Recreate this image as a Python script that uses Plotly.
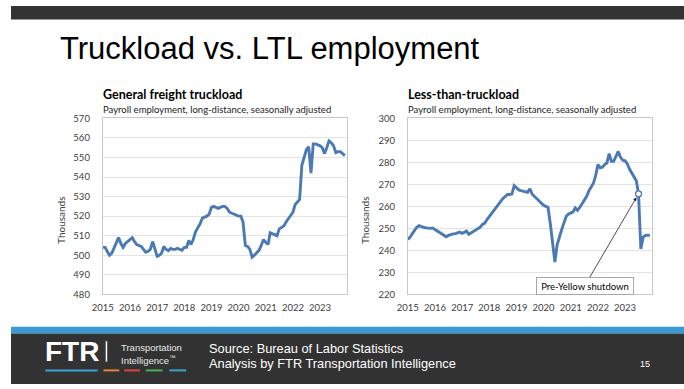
import plotly.graph_objects as go
import pandas as pd

# ---------------- data ----------------
months = pd.date_range("2015-01-01", "2023-12-01", freq="MS")

truckload_k = [
    504, 504, 502, 500, 501, 504, 507, 509, 506, 504, 506, 507,          # 2015
    508, 509, 507, 505.5, 505, 504.5, 503, 501.5, 502, 503, 507, 503,    # 2016
    499.5, 500, 501, 504.5, 503, 502.3, 503.5, 503, 503, 503.5, 503, 502.5,  # 2017
    504, 504, 507.5, 505.5, 508, 512, 514, 516, 519, 519.5, 520, 521,    # 2018
    524.5, 525, 524.5, 524, 524.5, 525, 525, 524, 522, 521.5, 521, 520.5,  # 2019
    520, 520, 517, 505, 504.5, 503, 499, 500, 501.5, 502.5, 505, 508,    # 2020
    506.5, 505.5, 511.5, 511, 510.5, 510, 513.5, 514.5, 515, 517, 518.5, 520,  # 2021
    522, 526, 527, 528.5, 546, 550, 554, 555.5, 542, 557, 557, 556.5,    # 2022
    556, 555, 552, 555, 558.5, 557.5, 556, 552.5, 553, 553, 552, 551,    # 2023
]

ltl_k = [
    245, 246, 247.5, 249, 250.5, 251.2, 251, 250.5, 250.2, 250, 250, 250.2,      # 2015
    249.5, 248.7, 248, 247.5, 247, 246.2, 246.8, 247.3, 247.5, 247.6, 248, 248.3,  # 2016
    247.7, 248.3, 248.7, 247.3, 248, 248.7, 249.3, 249.8, 250.5, 251.8, 252.4, 254,  # 2017
    255.4, 256.8, 258.3, 259.6, 261, 262.3, 263.5, 264.4, 265.4, 265.4, 265.6, 269.4,  # 2018
    268.3, 267.5, 267.2, 266.9, 266.6, 266.4, 268, 265.5, 264.5, 263.5, 262.5, 261.5,  # 2019
    260.5, 260, 259.5, 252, 242, 234.7, 242.5, 246.5, 249.5, 252.5, 255.5, 256.5,  # 2020
    257, 257.5, 259.3, 258.2, 259.5, 261, 262.5, 264.5, 267, 268.5, 270.5, 274,    # 2021
    279, 277.5, 277.8, 279, 279.7, 284, 280.5, 280.5, 283, 285, 282.3, 281,        # 2022
    280.7, 279.3, 277, 275, 273, 271.6, 265.7, 240.6, 246, 246.8, 246.9, 246.8,    # 2023
]

year_labels = [str(y) for y in range(2015, 2024)]
year_ticks = [f"{y}-01-01" for y in range(2015, 2024)]
marker_index = 102  # July 2023, pre-Yellow shutdown

# ---------------- figure ----------------
W, H = 684, 389
def X(px): return px / W
def Y(py): return 1 - py / H

LINE = "#4a7ab4"
TICKF = dict(family="Lato", size=9.5, color="#404040")

fig = go.Figure()
fig.add_trace(go.Scatter(x=months, y=truckload_k, mode="lines",
                         line=dict(color=LINE, width=2.9), xaxis="x", yaxis="y",
                         hoverinfo="skip"))
fig.add_trace(go.Scatter(x=months, y=ltl_k, mode="lines",
                         line=dict(color=LINE, width=2.9), xaxis="x2", yaxis="y2",
                         hoverinfo="skip"))
fig.add_trace(go.Scatter(x=[months[marker_index]], y=[ltl_k[marker_index]], mode="markers",
                         marker=dict(color="white", size=6, line=dict(color=LINE, width=1.3)),
                         xaxis="x2", yaxis="y2", hoverinfo="skip"))

xcommon = dict(type="date", range=["2015-01-01", "2024-01-01"], tickvals=year_ticks,
               ticktext=year_labels, showgrid=False, showline=True, linecolor="#c8c8c8",
               linewidth=1, mirror=True, ticks="", tickfont=TICKF, ticklabelstandoff=4,
               zeroline=False, fixedrange=True)
ycommon = dict(showgrid=True, gridcolor="#e3e3e3", gridwidth=1, showline=True,
               linecolor="#c8c8c8", linewidth=1, mirror=True, ticks="", tickfont=TICKF,
               ticklabelstandoff=10, zeroline=False, dtick=10, fixedrange=True)

fig.update_layout(
    width=W, height=H, autosize=False, margin=dict(l=0, r=0, t=0, b=0),
    paper_bgcolor="white", plot_bgcolor="white", showlegend=False,
    xaxis=dict(domain=[X(93.3), X(341.7)], anchor="y", **xcommon),
    yaxis=dict(domain=[Y(296.7), Y(115.7)], anchor="x", range=[480, 570], **ycommon),
    xaxis2=dict(domain=[X(403.3), X(651.7)], anchor="y2", **xcommon),
    yaxis2=dict(domain=[Y(296.7), Y(115.7)], anchor="x2", range=[220, 300], **ycommon),
)

shapes = [
    dict(type="rect", xref="paper", yref="paper", x0=0, x1=1, y0=Y(14), y1=1,
         fillcolor="#333333", line=dict(width=0), layer="below"),
    dict(type="rect", xref="paper", yref="paper", x0=0, x1=1, y0=Y(337), y1=Y(330),
         fillcolor="#3a9bd2", line=dict(width=0), layer="below"),
    dict(type="rect", xref="paper", yref="paper", x0=0, x1=1, y0=0, y1=Y(337),
         fillcolor="#323232", line=dict(width=0), layer="below"),
    dict(type="line", xref="paper", yref="paper", x0=X(97), x1=X(97), y0=Y(345), y1=Y(366),
         line=dict(color="white", width=1.5)),
]
dash_cols = [("#3aa3d6", 35, 88), ("#e8843c", 94, 110), ("#d9463f", 115, 131),
             ("#4caf50", 137, 154), ("#3aa3d6", 161, 178)]
for c, a, b in dash_cols:
    shapes.append(dict(type="line", xref="paper", yref="paper", x0=X(a), x1=X(b),
                       y0=Y(375), y1=Y(375), line=dict(color=c, width=2)))
fig.update_layout(shapes=shapes)

def txt(s, px, py, size, color="#000", family="Lato", xanchor="left", **kw):
    return dict(text=s, x=X(px), y=Y(py), xref="paper", yref="paper", showarrow=False,
                xanchor=xanchor, yanchor="middle", font=dict(family=family, size=size, color=color), **kw)

ann = [
    txt("Truckload vs. LTL employment", 48, 44, 31, "#000", "Liberation Sans"),
    txt("<b>General freight truckload</b>", 91, 91, 12.5, "#000"),
    txt("Payroll employment, long-distance, seasonally adjusted", 91, 106, 9.5, "#222"),
    txt("<b>Less-than-truckload</b>", 401, 91, 12.5, "#000"),
    txt("Payroll employment, long-distance, seasonally adjusted", 401, 106, 9.5, "#222"),
    txt("Thousands", 51, 221, 10, "#404040", xanchor="center", textangle=-90),
    txt("Thousands", 360, 221, 10, "#404040", xanchor="center", textangle=-90),
    txt("<b>FTR</b>", 33, 356, 28, "white", "Liberation Sans"),
    txt("Transportation", 110, 351, 9.5, "#e8e8e8", "Liberation Sans"),
    txt("Intelligence<sup>™</sup>", 110, 364, 9.5, "#e8e8e8", "Liberation Sans"),
    txt("Source: Bureau of Labor Statistics", 199, 352, 12.8, "white", "Liberation Sans"),
    txt("Analysis by FTR Transportation Intelligence", 199, 368, 12.8, "white", "Liberation Sans"),
    txt("15", 644, 368, 9, "white", "Liberation Sans", xanchor="center"),
    dict(text="Pre-Yellow shutdown", x=months[marker_index], y=ltl_k[marker_index],
         xref="x2", yref="y2", showarrow=True, ax=-53.6, ay=91.7, axref="pixel", ayref="pixel",
         arrowhead=2, arrowsize=0.9, arrowwidth=0.8, arrowcolor="#222", standoff=4,
         bgcolor="white", bordercolor="#a8a8a8", borderwidth=1, borderpad=2,
         width=92, height=12, font=dict(family="Lato", size=9.5, color="#000")),
]
fig.update_layout(annotations=ann)

# remove the default page margin; any page area still visible around the figure gets the
# same slide bands (dark header, white body, blue stripe, dark footer)
page_js = (
    "document.documentElement.style.margin='0'; document.body.style.margin='0';"
    "document.body.style.overflow='hidden';"
    "document.documentElement.style.background='linear-gradient(to bottom, #333333 0px, #333333 14px,"
    " #ffffff 14px, #ffffff 330px, #3a9bd2 330px, #3a9bd2 337px, #323232 337px, #323232 100%)';"
    "document.documentElement.style.minHeight='100%';"
)
fig.write_html("out.html", post_script=page_js,
               config={"displayModeBar": False, "responsive": False})
